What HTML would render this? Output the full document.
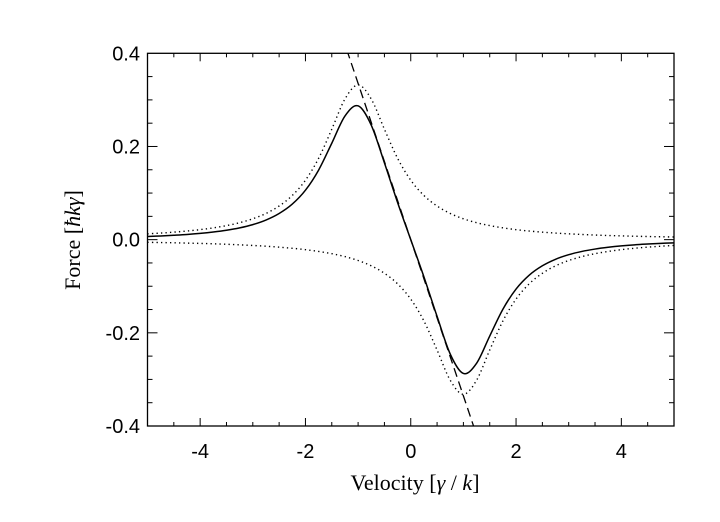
<!DOCTYPE html>
<html><head><meta charset="utf-8"><style>
html,body{margin:0;padding:0;background:#fff;}
svg{display:block;}
.tk{font-family:"Liberation Sans",sans-serif;font-size:20px;fill:#000;}
.ti{font-family:"Liberation Serif",serif;font-size:22px;fill:#000;}
</style></head><body>
<svg id="chart" width="720" height="522" viewBox="0 0 720 522" xmlns="http://www.w3.org/2000/svg">
<defs><clipPath id="clip"><rect x="147.5" y="53.3" width="526.5" height="372.7"/></clipPath></defs>
<g id="marks" clip-path="url(#clip)"></g>
<rect x="147.5" y="53.3" width="526.5" height="372.7" fill="none" stroke="#000" stroke-width="1.3"/>
<g id="axes"></g>
<text class="ti" x="415" y="490" text-anchor="middle">Velocity [<tspan font-style="italic">γ</tspan> / <tspan font-style="italic">k</tspan>]</text>
<text class="ti" transform="translate(80,240) rotate(-90)" text-anchor="middle">Force [<tspan font-style="italic">ħkγ</tspan>]</text>
</svg>
<script>
const velocities = [-5,-4.75,-4.5,-4.25,-4,-3.75,-3.5,-3.25,-3,-2.75,-2.5,-2.25,-2,-1.75,-1.5,-1.25,-1,-0.75,-0.5,-0.25,0,0.25,0.5,0.75,1,1.25,1.5,1.75,2,2.25,2.5,2.75,3,3.25,3.5,3.75,4,4.25,4.5,4.75,5];
const beamPlus = [.0125,.0141,.0161,.0185,.0215,.0253,.0301,.0364,.0448,.0562,.0722,.0948,.1276,.1746,.2370,.3018,.332,.3018,.2370,.1746,.1276,.0948,.0722,.0562,.0448,.0364,.0301,.0253,.0215,.0185,.0161,.0141,.0125,.0111,.0099,.0089,.0081,.0074,.0067,.0062,.0057];
const beamMinus = [-.0057,-.0062,-.0067,-.0074,-.0081,-.0089,-.0099,-.0111,-.0125,-.0141,-.0161,-.0185,-.0215,-.0253,-.0301,-.0364,-.0448,-.0562,-.0722,-.0948,-.1276,-.1746,-.2370,-.3018,-.332,-.3018,-.2370,-.1746,-.1276,-.0948,-.0722,-.0562,-.0448,-.0364,-.0301,-.0253,-.0215,-.0185,-.0161,-.0141,-.0125];
const totalForce = [.0068,.0079,.0094,.0111,.0134,.0164,.0202,.0253,.0323,.0421,.0561,.0763,.1061,.1493,.2069,.2654,.2872,.2456,.1648,.0798,0,-.0798,-.1648,-.2456,-.2872,-.2654,-.2069,-.1493,-.1061,-.0763,-.0561,-.0421,-.0323,-.0253,-.0202,-.0164,-.0134,-.0111,-.0094,-.0079,-.0068];
const dampV = [-1.3,1.3];
const dampF = [0.436,-0.436];
const xTicks = [-4,-2,0,2,4];
const xTickLabels = ["-4","-2","0","2","4"];
const yTicks = [-0.4,-0.2,0,0.2,0.4];
const yTickLabels = ["-0.4","-0.2","0.0","0.2","0.4"];

const X0=147.5,X1=674,Y0=426,Y1=53.3;
const sx=v=>X0+(v+5)/10*(X1-X0);
const sy=f=>Y0-(f+0.4)/0.8*(Y0-Y1);
const NS="http://www.w3.org/2000/svg";
function mk(tag,attrs,parent){const e=document.createElementNS(NS,tag);for(const k in attrs)e.setAttribute(k,attrs[k]);parent.appendChild(e);return e;}
function smooth(xs,ys){
  const p=xs.map((x,i)=>[sx(x),sy(ys[i])]);
  let d=`M${p[0][0]},${p[0][1]}`;
  for(let i=0;i<p.length-1;i++){
    const a=p[Math.max(0,i-1)],b=p[i],c=p[i+1],e=p[Math.min(p.length-1,i+2)];
    d+=`C${b[0]+(c[0]-a[0])/6},${b[1]+(c[1]-a[1])/6} ${c[0]-(e[0]-b[0])/6},${c[1]-(e[1]-b[1])/6} ${c[0]},${c[1]}`;
  }
  return d;
}
const marks=document.getElementById('marks');
const p1=mk('path',{d:smooth(velocities,beamPlus),fill:'none',stroke:'#000','stroke-width':1.4,'stroke-dasharray':'1.3 3.2'},marks);


const p2=mk('path',{d:smooth(velocities,beamMinus),fill:'none',stroke:'#000','stroke-width':1.4,'stroke-dasharray':'1.3 3.2'},marks);


const p3=mk('path',{d:smooth(velocities,totalForce),fill:'none',stroke:'#000','stroke-width':1.5},marks);


const p4=mk('line',{x1:sx(dampV[0]),y1:sy(dampF[0]),x2:sx(dampV[1]),y2:sy(dampF[1]),stroke:'#000','stroke-width':1.3,'stroke-dasharray':'9 5'},marks);



const axes=document.getElementById('axes');
for(let v=-4.5;v<=4.51;v+=0.5){
  const major=xTicks.some(t=>Math.abs(t-v)<1e-6);
  const L=major?8:4;
  mk('line',{x1:sx(v),y1:Y0,x2:sx(v),y2:Y0-L,stroke:'#000','stroke-width':1},axes);
  mk('line',{x1:sx(v),y1:Y1,x2:sx(v),y2:Y1+L,stroke:'#000','stroke-width':1},axes);
}
for(let f=-0.35;f<=0.351;f+=0.05){
  const major=yTicks.some(t=>Math.abs(t-f)<1e-6);
  const L=major?10:5;
  mk('line',{x1:X0,y1:sy(f),x2:X0+L,y2:sy(f),stroke:'#000','stroke-width':1},axes);
  mk('line',{x1:X1,y1:sy(f),x2:X1-L,y2:sy(f),stroke:'#000','stroke-width':1},axes);
}
xTicks.forEach((t,i)=>{
  const e=mk('text',{x:sx(t),y:458,'text-anchor':'middle',class:'tk'},axes);
  e.textContent=xTickLabels[i];
  
  
});
yTicks.forEach((t,i)=>{
  const e=mk('text',{x:140,y:sy(t)+7,'text-anchor':'end',class:'tk'},axes);
  e.textContent=yTickLabels[i];
  
  
});
</script>
</body></html>
